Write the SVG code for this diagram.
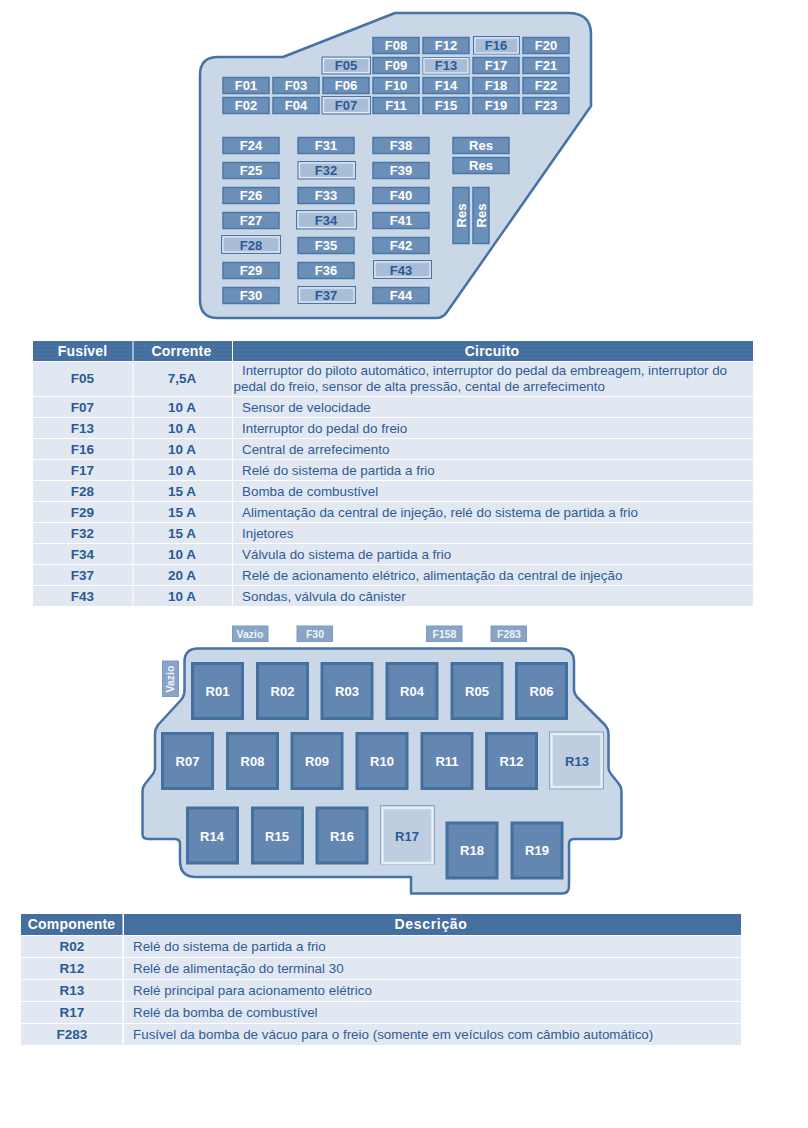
<svg xmlns="http://www.w3.org/2000/svg" width="808" height="1128" viewBox="0 0 808 1128">
<style>
text{font-family:"Liberation Sans",Arial,sans-serif}
.panel{fill:#cad7e6;stroke:#4672a6;stroke-width:2.5;stroke-linejoin:round}
.f{fill:#6c8fb8;stroke:#4a77aa;stroke-width:1.5}
.h{fill:#a9bdd7;stroke:#4a77aa;stroke-width:1}
.in{fill:none;stroke:#e6edf5;stroke-width:1.2}
.r{fill:#6487b1;stroke:#44709f;stroke-width:3}
.rh{fill:#becde0;stroke:#8aa5c6;stroke-width:1}
.s{fill:#88a5c8;stroke:#7a9bc2;stroke-width:1}
.l{fill:#fff;font-weight:700;font-size:13px;text-anchor:middle}
.d{fill:#2c5a95;font-weight:700;font-size:13px;text-anchor:middle}
.sl{fill:#f0f4f9;font-weight:700;font-size:10.5px;text-anchor:middle}
.hd{fill:#446f9f}
.row{fill:#e1e8f1}
.th{fill:#fff;font-weight:700;font-size:14px;text-anchor:middle;letter-spacing:.2px}
.c{fill:#2c5a95;font-weight:700;font-size:13.5px;text-anchor:middle}
.t{fill:#2f5c97;font-size:13.4px}
</style>
<defs>
<pattern id="dots" width="4" height="4" patternUnits="userSpaceOnUse"><rect width="4" height="4" fill="#446f9f"/><rect x="1" y="1" width="1" height="1" fill="#5b82ad"/></pattern>
</defs>

<g id="fuse-panel">
<path class="panel" d="M395 13H568Q591 13 591 34V106L447 312Q443 318 436 318H218Q200 318 200 300V75Q200 57 218 57H283Z"/>
</g>
<g id="F01"><rect class="f" x="223" y="77.5" width="46" height="16"/><text class="l" x="246" y="90">F01</text></g>
<g id="F02"><rect class="f" x="223" y="97.5" width="46" height="16"/><text class="l" x="246" y="110">F02</text></g>
<g id="F03"><rect class="f" x="273" y="77.5" width="46" height="16"/><text class="l" x="296" y="90">F03</text></g>
<g id="F04"><rect class="f" x="273" y="97.5" width="46" height="16"/><text class="l" x="296" y="110">F04</text></g>
<g id="F05"><rect class="h" x="322" y="57" width="48.500" height="17"/><rect class="in" x="323.500" y="58.500" width="45.500" height="14"/><text class="d" x="346" y="70">F05</text></g>
<g id="F06"><rect class="f" x="323" y="77.5" width="46" height="16"/><text class="l" x="346" y="90">F06</text></g>
<g id="F07"><rect class="h" x="322" y="96.500" width="48.500" height="17.500"/><rect class="in" x="323.500" y="98" width="45.500" height="14.500"/><text class="d" x="346" y="110">F07</text></g>
<g id="F08"><rect class="f" x="373" y="37.5" width="46" height="16"/><text class="l" x="396" y="50">F08</text></g>
<g id="F09"><rect class="f" x="373" y="57.5" width="46" height="16"/><text class="l" x="396" y="70">F09</text></g>
<g id="F10"><rect class="f" x="373" y="77.5" width="46" height="16"/><text class="l" x="396" y="90">F10</text></g>
<g id="F11"><rect class="f" x="373" y="97.5" width="46" height="16"/><text class="l" x="396" y="110">F11</text></g>
<g id="F12"><rect class="f" x="423" y="37.5" width="46" height="16"/><text class="l" x="446" y="50">F12</text></g>
<g id="F13"><rect class="h" x="423" y="57.5" width="46" height="16.500"/><rect class="in" x="424" y="58.500" width="44" height="14.500"/><text class="d" x="446" y="70">F13</text></g>
<g id="F14"><rect class="f" x="423" y="77.5" width="46" height="16"/><text class="l" x="446" y="90">F14</text></g>
<g id="F15"><rect class="f" x="423" y="97.5" width="46" height="16"/><text class="l" x="446" y="110">F15</text></g>
<g id="F16"><rect class="h" x="473.500" y="36.500" width="46" height="17.500"/><rect class="in" x="475" y="38" width="43" height="15"/><text class="d" x="496" y="50">F16</text></g>
<g id="F17"><rect class="f" x="473" y="57.5" width="46" height="16"/><text class="l" x="496" y="70">F17</text></g>
<g id="F18"><rect class="f" x="473" y="77.5" width="46" height="16"/><text class="l" x="496" y="90">F18</text></g>
<g id="F19"><rect class="f" x="473" y="97.5" width="46" height="16"/><text class="l" x="496" y="110">F19</text></g>
<g id="F20"><rect class="f" x="523" y="37.5" width="46" height="16"/><text class="l" x="546" y="50">F20</text></g>
<g id="F21"><rect class="f" x="523" y="57.5" width="46" height="16"/><text class="l" x="546" y="70">F21</text></g>
<g id="F22"><rect class="f" x="523" y="77.5" width="46" height="16"/><text class="l" x="546" y="90">F22</text></g>
<g id="F23"><rect class="f" x="523" y="97.5" width="46" height="16"/><text class="l" x="546" y="110">F23</text></g>

<g id="F24"><rect class="f" x="223" y="137.5" width="56" height="16"/><text class="l" x="251" y="150">F24</text></g>
<g id="F25"><rect class="f" x="223" y="162.5" width="56" height="16"/><text class="l" x="251" y="175">F25</text></g>
<g id="F26"><rect class="f" x="223" y="187.5" width="56" height="16"/><text class="l" x="251" y="200">F26</text></g>
<g id="F27"><rect class="f" x="223" y="212.5" width="56" height="16"/><text class="l" x="251" y="225">F27</text></g>
<g id="F28"><rect class="h" x="221.500" y="235.500" width="59" height="18"/><rect class="in" x="223" y="237" width="56" height="15"/><text class="d" x="251" y="250">F28</text></g>
<g id="F29"><rect class="f" x="223" y="262.5" width="56" height="16"/><text class="l" x="251" y="275">F29</text></g>
<g id="F30"><rect class="f" x="223" y="287.5" width="56" height="16"/><text class="l" x="251" y="300">F30</text></g>
<g id="F31"><rect class="f" x="298" y="137.5" width="56" height="16"/><text class="l" x="326" y="150">F31</text></g>
<g id="F32"><rect class="h" x="298" y="161.500" width="57.500" height="17.500"/><rect class="in" x="299.500" y="163" width="54.500" height="14.500"/><text class="d" x="326" y="175">F32</text></g>
<g id="F33"><rect class="f" x="298" y="187.5" width="56" height="16"/><text class="l" x="326" y="200">F33</text></g>
<g id="F34"><rect class="h" x="296.500" y="210.500" width="60" height="18.500"/><rect class="in" x="298" y="212" width="57" height="15.500"/><text class="d" x="326" y="225">F34</text></g>
<g id="F35"><rect class="f" x="298" y="237.5" width="56" height="16"/><text class="l" x="326" y="250">F35</text></g>
<g id="F36"><rect class="f" x="298" y="262.5" width="56" height="16"/><text class="l" x="326" y="275">F36</text></g>
<g id="F37"><rect class="h" x="298" y="286.500" width="57.500" height="17"/><rect class="in" x="299.500" y="288" width="54.500" height="14"/><text class="d" x="326" y="300">F37</text></g>
<g id="F38"><rect class="f" x="373" y="137.5" width="56" height="16"/><text class="l" x="401" y="150">F38</text></g>
<g id="F39"><rect class="f" x="373" y="162.5" width="56" height="16"/><text class="l" x="401" y="175">F39</text></g>
<g id="F40"><rect class="f" x="373" y="187.5" width="56" height="16"/><text class="l" x="401" y="200">F40</text></g>
<g id="F41"><rect class="f" x="373" y="212.5" width="56" height="16"/><text class="l" x="401" y="225">F41</text></g>
<g id="F42"><rect class="f" x="373" y="237.5" width="56" height="16"/><text class="l" x="401" y="250">F42</text></g>
<g id="F43"><rect class="h" x="373.500" y="260.500" width="58" height="18"/><rect class="in" x="375" y="262" width="55" height="15"/><text class="d" x="401" y="275">F43</text></g>
<g id="F44"><rect class="f" x="373" y="287.5" width="56" height="16"/><text class="l" x="401" y="300">F44</text></g>
<g id="Res1"><rect class="f" x="453" y="137.5" width="56" height="16"/><text class="l" x="481" y="150">Res</text></g>
<g id="Res2"><rect class="f" x="453" y="157.5" width="56" height="16"/><text class="l" x="481" y="170">Res</text></g>
<g id="Res3"><rect class="f" x="453" y="187.5" width="16" height="56"/><text class="l" transform="translate(465.500 215.500) rotate(-90)">Res</text></g>
<g id="Res4"><rect class="f" x="473" y="187.5" width="16" height="56"/><text class="l" transform="translate(485.500 215.500) rotate(-90)">Res</text></g>

<g id="fuse-table">
<rect x="33" y="341" width="99.500" height="20" fill="url(#dots)"/><rect x="133.500" y="341" width="98.500" height="20" fill="url(#dots)"/><rect x="233" y="341" width="520" height="20" fill="url(#dots)"/>
<text class="th" x="82.500" y="356">Fusível</text><text class="th" x="181.500" y="356">Corrente</text><text class="th" x="492" y="356">Circuito</text>
<rect class="row" x="33" y="362" width="99.500" height="34"/><rect class="row" x="133.500" y="362" width="98.500" height="34"/><rect class="row" x="233" y="362" width="520" height="34"/>
<text class="c" x="82.500" y="383">F05</text><text class="c" x="182" y="383">7,5A</text>
<text class="t" x="242" y="375" textLength="485" lengthAdjust="spacing">Interruptor do piloto automático, interruptor do pedal da embreagem, interruptor do</text>
<text class="t" x="233.500" y="391">pedal do freio, sensor de alta pressão, cental de arrefecimento</text>
<rect class="row" x="33" y="397" width="99.500" height="20"/><rect class="row" x="133.500" y="397" width="98.500" height="20"/><rect class="row" x="233" y="397" width="520" height="20"/>
<text class="c" x="82.500" y="412">F07</text><text class="c" x="182" y="412">10 A</text><text class="t" x="242" y="412">Sensor de velocidade</text>
<rect class="row" x="33" y="418" width="99.500" height="20"/><rect class="row" x="133.500" y="418" width="98.500" height="20"/><rect class="row" x="233" y="418" width="520" height="20"/>
<text class="c" x="82.500" y="433">F13</text><text class="c" x="182" y="433">10 A</text><text class="t" x="242" y="433">Interruptor do pedal do freio</text>
<rect class="row" x="33" y="439" width="99.500" height="20"/><rect class="row" x="133.500" y="439" width="98.500" height="20"/><rect class="row" x="233" y="439" width="520" height="20"/>
<text class="c" x="82.500" y="454">F16</text><text class="c" x="182" y="454">10 A</text><text class="t" x="242" y="454">Central de arrefecimento</text>
<rect class="row" x="33" y="460" width="99.500" height="20"/><rect class="row" x="133.500" y="460" width="98.500" height="20"/><rect class="row" x="233" y="460" width="520" height="20"/>
<text class="c" x="82.500" y="475">F17</text><text class="c" x="182" y="475">10 A</text><text class="t" x="242" y="475">Relé do sistema de partida a frio</text>
<rect class="row" x="33" y="481" width="99.500" height="20"/><rect class="row" x="133.500" y="481" width="98.500" height="20"/><rect class="row" x="233" y="481" width="520" height="20"/>
<text class="c" x="82.500" y="496">F28</text><text class="c" x="182" y="496">15 A</text><text class="t" x="242" y="496">Bomba de combustível</text>
<rect class="row" x="33" y="502" width="99.500" height="20"/><rect class="row" x="133.500" y="502" width="98.500" height="20"/><rect class="row" x="233" y="502" width="520" height="20"/>
<text class="c" x="82.500" y="517">F29</text><text class="c" x="182" y="517">15 A</text><text class="t" x="242" y="517">Alimentação da central de injeção, relé do sistema de partida a frio</text>
<rect class="row" x="33" y="523" width="99.500" height="20"/><rect class="row" x="133.500" y="523" width="98.500" height="20"/><rect class="row" x="233" y="523" width="520" height="20"/>
<text class="c" x="82.500" y="538">F32</text><text class="c" x="182" y="538">15 A</text><text class="t" x="242" y="538">Injetores</text>
<rect class="row" x="33" y="544" width="99.500" height="20"/><rect class="row" x="133.500" y="544" width="98.500" height="20"/><rect class="row" x="233" y="544" width="520" height="20"/>
<text class="c" x="82.500" y="559">F34</text><text class="c" x="182" y="559">10 A</text><text class="t" x="242" y="559">Válvula do sistema de partida a frio</text>
<rect class="row" x="33" y="565" width="99.500" height="20"/><rect class="row" x="133.500" y="565" width="98.500" height="20"/><rect class="row" x="233" y="565" width="520" height="20"/>
<text class="c" x="82.500" y="580">F37</text><text class="c" x="182" y="580">20 A</text><text class="t" x="242" y="580">Relé de acionamento elétrico, alimentação da central de injeção</text>
<rect class="row" x="33" y="586" width="99.500" height="20"/><rect class="row" x="133.500" y="586" width="98.500" height="20"/><rect class="row" x="233" y="586" width="520" height="20"/>
<text class="c" x="82.500" y="601">F43</text><text class="c" x="182" y="601">10 A</text><text class="t" x="242" y="601">Sondas, válvula do cânister</text>
</g>

<g id="relay-panel">
<path class="panel" d="M198 648.500H560Q574 648.500 574 662V690Q574 693 577 697L605 725Q608.500 729 608.500 734V768Q608.500 771 611 774L619 784Q621.500 787 621.500 792V834Q621.500 839 616 839H574Q569 839 569 844V886Q569 893.500 562 893.500H411V877H196Q180 877 180 861V844Q180 839 175 839H148Q142.500 839 142.500 834V792Q142.500 787 145 784L153 774Q155 771 155 768V734Q155 729 158 725L181 700Q184.500 696 184.500 690V662Q184.500 648.500 198 648.500Z"/>
</g>
<g id="small-Vazio-1"><rect class="s" x="232.500" y="626" width="35.500" height="15.500"/><text class="sl" x="250" y="637.500">Vazio</text></g>
<g id="small-F30"><rect class="s" x="297" y="626" width="35.500" height="15.500"/><text class="sl" x="315" y="637.500">F30</text></g>
<g id="small-F158"><rect class="s" x="426.500" y="626" width="35.500" height="15.500"/><text class="sl" x="444.500" y="637.500">F158</text></g>
<g id="small-F283"><rect class="s" x="491" y="626" width="35.500" height="15.500"/><text class="sl" x="509" y="637.500">F283</text></g>
<g id="small-Vazio-2"><rect class="s" x="162.500" y="661" width="16" height="35.500"/><text class="sl" transform="translate(174 679) rotate(-90)">Vazio</text></g>

<g id="R01"><rect class="r" x="192.500" y="663.500" width="50" height="55"/><text class="l" x="217.500" y="696">R01</text></g>
<g id="R02"><rect class="r" x="257.500" y="663.500" width="50" height="55"/><text class="l" x="282.500" y="696">R02</text></g>
<g id="R03"><rect class="r" x="322" y="663.500" width="50" height="55"/><text class="l" x="347" y="696">R03</text></g>
<g id="R04"><rect class="r" x="387" y="663.500" width="50" height="55"/><text class="l" x="412" y="696">R04</text></g>
<g id="R05"><rect class="r" x="452" y="663.500" width="50" height="55"/><text class="l" x="477" y="696">R05</text></g>
<g id="R06"><rect class="r" x="516.500" y="663.500" width="50" height="55"/><text class="l" x="541.500" y="696">R06</text></g>
<g id="R07"><rect class="r" x="162.500" y="733.500" width="50" height="55"/><text class="l" x="187.500" y="766">R07</text></g>
<g id="R08"><rect class="r" x="227.500" y="733.500" width="50" height="55"/><text class="l" x="252.500" y="766">R08</text></g>
<g id="R09"><rect class="r" x="292" y="733.500" width="50" height="55"/><text class="l" x="317" y="766">R09</text></g>
<g id="R10"><rect class="r" x="357" y="733.500" width="50" height="55"/><text class="l" x="382" y="766">R10</text></g>
<g id="R11"><rect class="r" x="422" y="733.500" width="50" height="55"/><text class="l" x="447" y="766">R11</text></g>
<g id="R12"><rect class="r" x="486.500" y="733.500" width="50" height="55"/><text class="l" x="511.500" y="766">R12</text></g>
<g id="R13"><rect class="rh" x="549.500" y="732" width="54" height="57"/><rect x="551.500" y="734" width="50" height="53" fill="none" stroke="#e6edf5" stroke-width="2.500"/><text class="d" x="577" y="766">R13</text></g>
<g id="R14"><rect class="r" x="187.500" y="808" width="50" height="55"/><text class="l" x="212" y="841">R14</text></g>
<g id="R15"><rect class="r" x="252.500" y="808" width="50" height="55"/><text class="l" x="277" y="841">R15</text></g>
<g id="R16"><rect class="r" x="317" y="808" width="50" height="55"/><text class="l" x="342" y="841">R16</text></g>
<g id="R17"><rect class="rh" x="380.500" y="805.500" width="54" height="58.500"/><rect x="382.500" y="808" width="50" height="55" fill="none" stroke="#e6edf5" stroke-width="2.500"/><text class="d" x="407" y="841">R17</text></g>
<g id="R18"><rect class="r" x="447" y="823" width="50" height="55"/><text class="l" x="472" y="855">R18</text></g>
<g id="R19"><rect class="r" x="512" y="823" width="50" height="55"/><text class="l" x="537" y="855">R19</text></g>

<g id="relay-table">
<rect class="hd" x="21" y="914" width="101.500" height="21"/><rect class="hd" x="124" y="914" width="617" height="21"/>
<text class="th" x="71.500" y="929">Componente</text><text class="th" x="431" y="929" style="letter-spacing:.7px">Descrição</text>
<rect class="row" x="21" y="936" width="101.500" height="21"/><rect class="row" x="124" y="936" width="617" height="21"/>
<text class="c" x="72" y="951">R02</text><text class="t" x="133" y="951">Relé do sistema de partida a frio</text>
<rect class="row" x="21" y="958" width="101.500" height="21"/><rect class="row" x="124" y="958" width="617" height="21"/>
<text class="c" x="72" y="973">R12</text><text class="t" x="133" y="973">Relé de alimentação do terminal 30</text>
<rect class="row" x="21" y="980" width="101.500" height="21"/><rect class="row" x="124" y="980" width="617" height="21"/>
<text class="c" x="72" y="995">R13</text><text class="t" x="133" y="995">Relé principal para acionamento elétrico</text>
<rect class="row" x="21" y="1002" width="101.500" height="21"/><rect class="row" x="124" y="1002" width="617" height="21"/>
<text class="c" x="72" y="1017">R17</text><text class="t" x="133" y="1017">Relé da bomba de combustível</text>
<rect class="row" x="21" y="1024" width="101.500" height="21"/><rect class="row" x="124" y="1024" width="617" height="21"/>
<text class="c" x="72" y="1039">F283</text><text class="t" x="133" y="1039">Fusível da bomba de vácuo para o freio (somente em veículos com câmbio automático)</text>
</g>
</svg>
